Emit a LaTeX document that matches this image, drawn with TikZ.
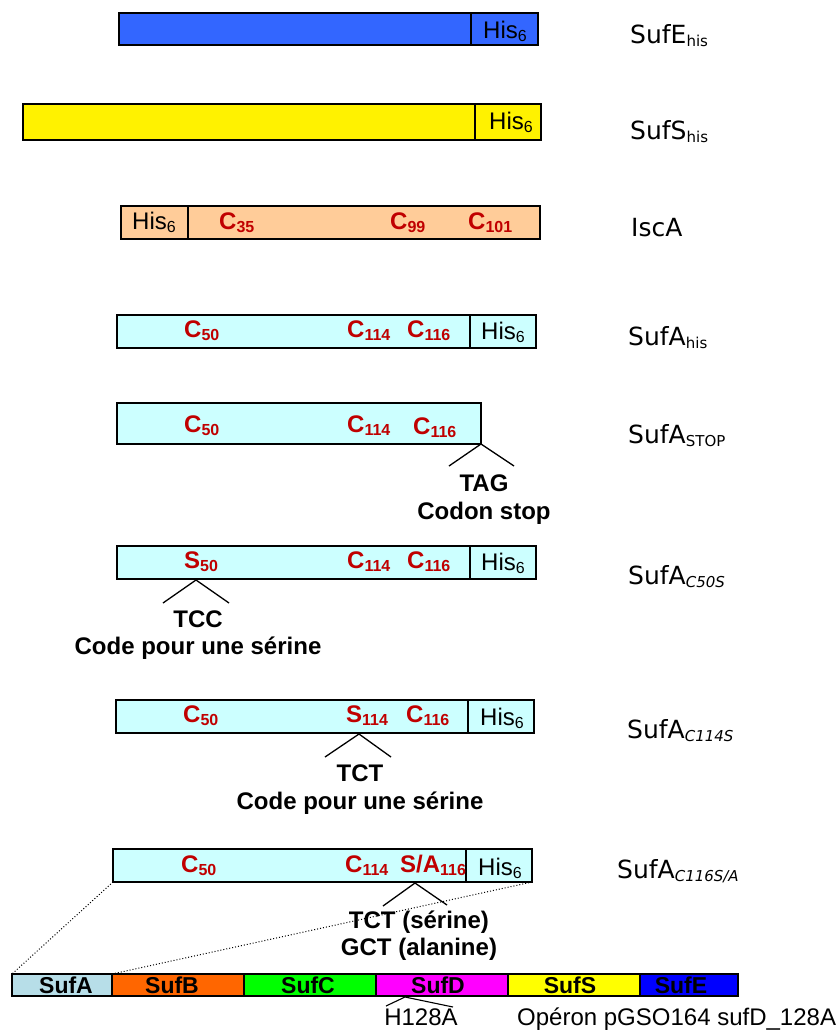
\documentclass[tikz,border=0pt]{standalone}
\usepackage{fontspec}
\setmainfont{Liberation Sans}
\newfontfamily\comicf{DejaVu Sans}
\definecolor{redlab}{RGB}{192,0,0}
\definecolor{sufEblue}{RGB}{51,102,255}
\definecolor{peach}{RGB}{255,204,153}
\definecolor{cyanl}{RGB}{204,255,255}
\definecolor{opA}{RGB}{183,222,232}
\definecolor{opB}{RGB}{255,102,0}
\definecolor{opC}{RGB}{0,255,0}
\definecolor{opD}{RGB}{255,0,255}
\definecolor{opS}{RGB}{255,255,0}
\definecolor{opE}{RGB}{0,0,255}
\newcommand\lowsub[1]{\raisebox{-3pt}{\fontsize{16}{16}\selectfont #1}}
\newcommand\lowsubc[1]{\raisebox{-3pt}{\fontsize{15}{15}\selectfont #1}}
\tikzset{
  seg/.style={draw=black, line width=1.8pt, inner sep=0pt, outer sep=0pt, anchor=north west},
  opseg/.style={draw=black, line width=1.5pt, inner sep=0pt, outer sep=0pt, anchor=north west, minimum height=22pt},
  redtxt/.style={inner sep=0pt, anchor=base west, text=redlab, font=\fontsize{24}{24}\selectfont\bfseries},
  histxt/.style={inner sep=0pt, anchor=base west, font=\fontsize{24}{24}\selectfont},
  blktxt/.style={inner sep=0pt, anchor=base, font=\fontsize{24}{24}\selectfont\bfseries},
  optxt/.style={inner sep=0pt, anchor=base, font=\fontsize{23}{23}\selectfont\bfseries},
  plaintxt/.style={inner sep=0pt, anchor=base, font=\fontsize{24}{24}\selectfont},
  rlab/.style={inner sep=0pt, anchor=base west, font=\comicf\fontsize{25}{25}\selectfont},
  chev/.style={draw=black, line width=1.3pt},
  dotline/.style={draw=black, line width=1pt, dotted}
}
\begin{document}
\begin{tikzpicture}[x=1pt,y=-1pt]
\useasboundingbox[fill=white] (0,0) rectangle (838,1034);

% Row 1: SufE his
\node[seg, fill=sufEblue, minimum width=352pt, minimum height=32pt] (b1) at (119,13) {};
\node[seg, fill=sufEblue, minimum width=67pt, minimum height=32pt] (h1) at (471,13) {};
\node[histxt] (t1) at (483,38) {His\lowsub{6}};
\node[rlab] (l1) at (630,43) {SufE\lowsubc{his}};

% Row 2: SufS his
\node[seg, fill=yellow, minimum width=452pt, minimum height=36pt] (b2) at (23,104) {};
\node[seg, fill=yellow, minimum width=66pt, minimum height=36pt] (h2) at (475,104) {};
\node[histxt] (t2) at (489,129) {His\lowsub{6}};
\node[rlab] (l2) at (630,139) {SufS\lowsubc{his}};

% Row 3: IscA
\node[seg, fill=peach, minimum width=67pt, minimum height=33pt] (h3) at (121,206) {};
\node[seg, fill=peach, minimum width=352pt, minimum height=33pt] (b3) at (188,206) {};
\node[histxt] (t3) at (132,229) {His\lowsub{6}};
\node[redtxt] (r3a) at (219,229) {C\lowsub{35}};
\node[redtxt] (r3b) at (390,229) {C\lowsub{99}};
\node[redtxt] (r3c) at (468,229) {C\lowsub{101}};
\node[rlab] (l3) at (631,236) {IscA};

% Row 4: SufA his
\node[seg, fill=cyanl, minimum width=353pt, minimum height=33pt] (b4) at (117,315) {};
\node[seg, fill=cyanl, minimum width=66pt, minimum height=33pt] (h4) at (470,315) {};
\node[redtxt] (r4a) at (184,337) {C\lowsub{50}};
\node[redtxt] (r4b) at (347,337) {C\lowsub{114}};
\node[redtxt] (r4c) at (407,337) {C\lowsub{116}};
\node[histxt] (t4) at (481,339) {His\lowsub{6}};
\node[rlab] (l4) at (628,345) {SufA\lowsubc{his}};

% Row 5: SufA STOP
\node[seg, fill=cyanl, minimum width=364pt, minimum height=41pt] (b5) at (117,403) {};
\node[redtxt] (r5a) at (184,432) {C\lowsub{50}};
\node[redtxt] (r5b) at (347,432) {C\lowsub{114}};
\node[redtxt] (r5c) at (413,434) {C\lowsub{116}};
\node[rlab] (l5) at (628,443) {SufA\lowsubc{STOP}};
\coordinate (c5l) at (449,466);
\coordinate (c5r) at (514,466);
\draw[chev] (c5l) -- (b5.south east) -- (c5r);
\node[blktxt] (k5a) at (484,491) {TAG};
\node[blktxt] (k5b) at (484,519) {Codon stop};

% Row 6: SufA C50S
\node[seg, fill=cyanl, minimum width=353pt, minimum height=33pt] (b6) at (117,546) {};
\node[seg, fill=cyanl, minimum width=66pt, minimum height=33pt] (h6) at (470,546) {};
\node[redtxt] (r6a) at (184,568) {S\lowsub{50}};
\node[redtxt] (r6b) at (347,568) {C\lowsub{114}};
\node[redtxt] (r6c) at (407,568) {C\lowsub{116}};
\node[histxt] (t6) at (481,570) {His\lowsub{6}};
\node[rlab] (l6) at (628,584) {SufA\lowsubc{\itshape C50S}};
\coordinate (c6a) at (196,580);
\coordinate (c6l) at (163,603);
\coordinate (c6r) at (229,603);
\draw[chev] (c6l) -- (c6a) -- (c6r);
\node[blktxt] (k6a) at (198,627) {TCC};
\node[blktxt] (k6b) at (198,654) {Code pour une sérine};

% Row 7: SufA C114S
\node[seg, fill=cyanl, minimum width=352pt, minimum height=33pt] (b7) at (116,700) {};
\node[seg, fill=cyanl, minimum width=66pt, minimum height=33pt] (h7) at (468,700) {};
\node[redtxt] (r7a) at (183,722) {C\lowsub{50}};
\node[redtxt] (r7b) at (346,722) {S\lowsub{114}};
\node[redtxt] (r7c) at (406,722) {C\lowsub{116}};
\node[histxt] (t7) at (480,725) {His\lowsub{6}};
\node[rlab] (l7) at (627,738) {SufA\lowsubc{\itshape C114S}};
\coordinate (c7a) at (359,734);
\coordinate (c7l) at (325,757);
\coordinate (c7r) at (391,757);
\draw[chev] (c7l) -- (c7a) -- (c7r);
\node[blktxt] (k7a) at (360,781) {TCT};
\node[blktxt] (k7b) at (360,809) {Code pour une sérine};

% Row 8: SufA C116S/A
\node[seg, fill=cyanl, minimum width=353pt, minimum height=33pt] (b8) at (113,849) {};
\node[seg, fill=cyanl, minimum width=66pt, minimum height=33pt] (h8) at (466,849) {};
\node[redtxt] (r8a) at (181,872) {C\lowsub{50}};
\node[redtxt] (r8b) at (345,872) {C\lowsub{114}};
\node[redtxt] (r8c) at (400,872) {S/A\lowsub{116}};
\node[histxt] (t8) at (478,875) {His\lowsub{6}};
\node[rlab] (l8) at (617,878) {SufA\lowsubc{\itshape C116S/A}};
\coordinate (c8a) at (415,883);
\coordinate (c8l) at (383,906);
\coordinate (c8r) at (447,905);
\draw[chev] (c8l) -- (c8a) -- (c8r);

% Operon
\node[opseg, fill=opA, minimum width=100pt] (oA) at (12,974) {};
\node[opseg, fill=opB, minimum width=132pt] (oB) at (112,974) {};
\node[opseg, fill=opC, minimum width=132pt] (oC) at (244,974) {};
\node[opseg, fill=opD, minimum width=132pt] (oD) at (376,974) {};
\node[opseg, fill=opS, minimum width=132pt] (oS) at (508,974) {};
\node[opseg, fill=opE, minimum width=98pt] (oE) at (640,974) {};
\node[optxt] (tA) at (66,993) {SufA};
\node[optxt] (tB) at (172,993) {SufB};
\node[optxt] (tC) at (308,993) {SufC};
\node[optxt] (tD) at (438,993) {SufD};
\node[optxt] (tS) at (570,993) {SufS};
\node[optxt] (tE) at (681,993) {SufE};

% Dotted zoom lines
\draw[dotline] (b8.south west) -- (oA.north west);
\draw[dotline] (h8.south east) -- (oA.north east);

% Labels below S/A chevron (drawn over dotted line)
\node[blktxt] (k8a) at (419,928) {TCT (sérine)};
\node[blktxt] (k8b) at (419,955) {GCT (alanine)};

% H128A chevron
\coordinate (cda) at (405,997);
\coordinate (cdl) at (386,1006);
\coordinate (cdr) at (453,1007);
\draw[chev, line width=1.1pt] (cdl) -- (cda) -- (cdr);
\node[plaintxt] (hd) at (421,1025) {H128A};
\node[plaintxt, anchor=base west] (op) at (517,1025) {Opéron pGSO164 sufD\_128A};
\end{tikzpicture}
\end{document}
